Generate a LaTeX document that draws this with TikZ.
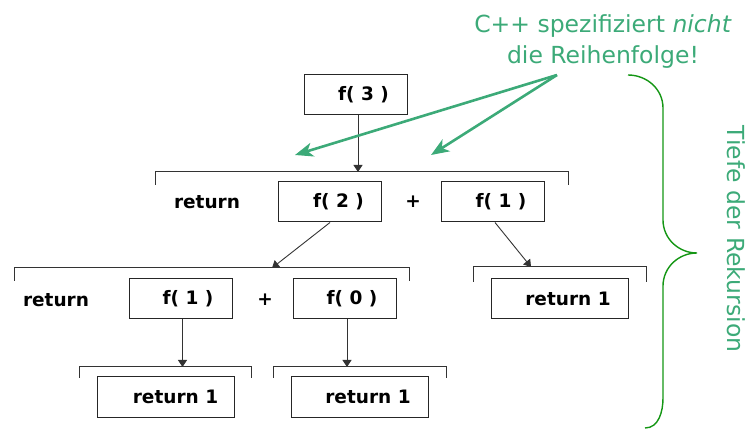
\documentclass[tikz,border=0pt]{standalone}
\usepackage{fontspec}
\setmainfont{DejaVu Sans}
\usetikzlibrary{arrows.meta}
\definecolor{notegreen}{RGB}{60,170,120}
\definecolor{bracegreen}{RGB}{20,150,20}
\tikzset{
  callbox/.style={draw=black!85, line width=1pt, minimum height=40pt, inner sep=0pt,
    font=\fontsize{18.5}{22}\selectfont\bfseries},
  fbox/.style={callbox, minimum width=103pt},
  rbox/.style={callbox, minimum width=137pt},
  plain/.style={inner sep=0pt, font=\fontsize{18.5}{22}\selectfont\bfseries},
  bracket/.style={draw=black!80, line width=1pt},
  callarrow/.style={draw=black!80, line width=0.9pt, -{Triangle[width=9pt,length=7pt]}},
  notearrow/.style={draw=notegreen, line width=2.6pt, -{Stealth[length=18pt,width=14pt,inset=5pt]}},
  notetext/.style={text=notegreen, font=\fontsize{23.5}{31}\selectfont, align=center, inner sep=0pt},
}
\begin{document}
\begin{tikzpicture}[x=1pt,y=-1pt]
\path[use as bounding box] (0,0) rectangle (750,430);

% boxes
\node[fbox] (f3) at (355.5,95) {\hspace*{16pt}f( 3 )};
\node[fbox] (f2) at (329.5,202) {\hspace*{18pt}f( 2 )};
\node[fbox] (f1a) at (492.5,202) {\hspace*{17pt}f( 1 )};
\node[fbox] (f1b) at (180.5,299) {\hspace*{15pt}f( 1 )};
\node[fbox] (f0) at (344.5,299) {\hspace*{15pt}f( 0 )};
\node[rbox] (r1a) at (559.5,299) {\hspace*{17pt}return 1};
\node[rbox] (r1b) at (165.5,397) {\hspace*{20pt}return 1};
\node[rbox] (r1c) at (359.5,397) {\hspace*{17pt}return 1};

% plain texts
\node[plain] (ret1) at (207,202) {return};
\node[plain] (plus1) at (413,202) {+};
\node[plain] (ret2) at (56,300) {return};
\node[plain] (plus2) at (265,300) {+};

% brackets
\draw[bracket] (155,185) -- (155,172) -- (568,172) -- (568,185);
\draw[bracket] (14,281) -- (14,268) -- (409,268) -- (409,281);
\draw[bracket] (473,282) -- (473,267) -- (646,267) -- (646,282);
\draw[bracket] (79,378) -- (79,367) -- (251,367) -- (251,378);
\draw[bracket] (273,378) -- (273,367) -- (446,367) -- (446,378);

% arrow targets on brackets
\coordinate (t1) at (358,172);
\coordinate (t2) at (272,268);
\coordinate (t3) at (531,267);
\coordinate (t4) at (182.5,367);
\coordinate (t5) at (347,367);
\coordinate (s2) at (330,222);
\coordinate (s3) at (495,222);
\coordinate (s4) at (182.5,319);
\coordinate (s5) at (347,319);

\draw[callarrow] (f3.south -| t1) -- (t1);
\draw[callarrow] (f2.south -| s2) -- (t2);
\draw[callarrow] (f1a.south -| s3) -- (t3);
\draw[callarrow] (f1b.south -| s4) -- (t4);
\draw[callarrow] (f0.south -| s5) -- (t5);

% note
\node[notetext] (note) at (603,42) {C++ spezifiziert \textit{nicht}\\die Reihenfolge!};
\coordinate (ns) at (557,75);
\coordinate (na) at (295,155);
\coordinate (nb) at (431,155);
\draw[notearrow] (ns) -- (na);
\draw[notearrow] (ns) -- (nb);

% brace
\draw[bracegreen, line width=1.4pt] (628,75) to[out=0,in=90] (663,108) -- (663,220)
  to[out=-90,in=180] (697,253) to[out=180,in=90] (663,286) -- (663,398)
  to[out=-90,in=0] (645,428);
\node[notetext, rotate=-90] (depth) at (736,239) {Tiefe der Rekursion};
\end{tikzpicture}
\end{document}
